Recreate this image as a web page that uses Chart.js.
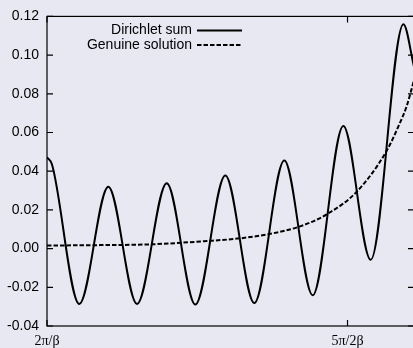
<!DOCTYPE html>
<html>
<head>
<meta charset="utf-8">
<script src="https://cdn.jsdelivr.net/npm/chart.js@4.4.0/dist/chart.umd.min.js"></script>
<style>
  html, body { margin: 0; padding: 0; overflow: hidden; background: #e8e8f2; }
  #wrap { position: relative; width: 416px; height: 348px; }
</style>
</head>
<body>
<div id="wrap"><canvas id="c"></canvas></div>
<script>
// Abscissa is measured in units of pi/beta.
const seriesNames = ['Dirichlet sum', 'Genuine solution'];

// Dirichlet partial sum: extrema of the oscillation plus the two ends
const sumX = [2.0000, 2.0083, 2.0537, 2.1020, 2.1498, 2.1992, 2.2468, 2.2967,
              2.3449, 2.3948, 2.4421, 2.4930, 2.5386, 2.5930, 2.6106];
const sumY = [0.0472, 0.0435, -0.0286, 0.0320, -0.0286, 0.0338, -0.0289, 0.0378,
              -0.0281, 0.0455, -0.0241, 0.0634, -0.0058, 0.1160, 0.0940];

// Genuine solution
const solX = [2.0000, 2.0882, 2.1714, 2.2657, 2.3211, 2.3760, 2.4210,
              2.4654, 2.5153, 2.5641, 2.5874, 2.5985, 2.6106];
const solY = [0.0016, 0.0018, 0.0022, 0.0039, 0.0053, 0.0079, 0.0115,
              0.0177, 0.0294, 0.0500, 0.0651, 0.0737, 0.0870];

const yTicks = [-0.04, -0.02, 0.00, 0.02, 0.04, 0.06, 0.08, 0.10, 0.12];
const xTickValues = [2, 2.5];
const xTickLabels = ['2\u03C0/\u03B2', '5\u03C0/2\u03B2'];

const BG = '#e8e8f2';
const INK = '#000000';
const SANS = '"Liberation Sans", Arial, sans-serif';
const SERIF = '"Liberation Serif", "Times New Roman", serif';

const toPoints = (xs, ys) => xs.map((x, i) => ({ x: x, y: ys[i] }));

// Page background behind everything
const backgroundPlugin = {
  id: 'bg',
  beforeDraw(chart) {
    const ctx = chart.ctx;
    ctx.save();
    ctx.fillStyle = BG;
    ctx.fillRect(0, 0, chart.width, chart.height);
    ctx.restore();
  }
};

// Box frame with inward tick marks on all four sides
const framePlugin = {
  id: 'frame',
  afterDatasetsDraw(chart) {
    const { ctx, chartArea: a, scales } = chart;
    const tl = 6;
    ctx.save();
    ctx.strokeStyle = INK;
    ctx.lineWidth = 1.2;
    ctx.setLineDash([]);
    ctx.strokeRect(a.left, a.top, a.right - a.left, a.bottom - a.top);
    ctx.beginPath();
    yTicks.forEach(v => {
      const y = scales.y.getPixelForValue(v);
      ctx.moveTo(a.left, y); ctx.lineTo(a.left + tl, y);
      ctx.moveTo(a.right, y); ctx.lineTo(a.right - tl, y);
    });
    xTickValues.forEach(v => {
      const x = scales.x.getPixelForValue(v);
      ctx.moveTo(x, a.bottom); ctx.lineTo(x, a.bottom - tl);
      ctx.moveTo(x, a.top); ctx.lineTo(x, a.top + tl);
    });
    ctx.stroke();
    ctx.restore();
  }
};

// Key in the upper left: right-aligned titles followed by line samples
const keyPlugin = {
  id: 'key',
  afterDraw(chart) {
    const { ctx, chartArea: a } = chart;
    const textRight = a.left + 145;
    const sampleL = a.left + 150;
    const sampleR = a.left + 195;
    ctx.save();
    ctx.font = '14px ' + SANS;
    ctx.textAlign = 'right';
    ctx.textBaseline = 'middle';
    chart.data.datasets.forEach((ds, i) => {
      const y = a.top + 14 + i * 14.5;
      ctx.fillStyle = INK;
      ctx.fillText(ds.label, textRight, y);
      ctx.strokeStyle = ds.borderColor;
      ctx.lineWidth = ds.borderWidth;
      ctx.setLineDash(ds.borderDash || []);
      ctx.beginPath();
      ctx.moveTo(sampleL, y);
      ctx.lineTo(sampleR, y);
      ctx.stroke();
    });
    ctx.restore();
  }
};

new Chart(document.getElementById('c'), {
  type: 'line',
  data: {
    datasets: [
      {
        label: seriesNames[0],
        data: toPoints(sumX, sumY),
        borderColor: INK,
        borderWidth: 2,
        pointRadius: 0,
        cubicInterpolationMode: 'monotone',
        fill: false
      },
      {
        label: seriesNames[1],
        data: toPoints(solX, solY),
        borderColor: INK,
        borderWidth: 2,
        borderDash: [4.5, 2],
        pointRadius: 0,
        cubicInterpolationMode: 'monotone',
        fill: false
      }
    ]
  },
  options: {
    responsive: true,
    maintainAspectRatio: false,
    animation: false,
    events: [],
    layout: { padding: { top: 13, right: 2, left: 0, bottom: 0 } },
    plugins: { legend: { display: false }, tooltip: { enabled: false } },
    scales: {
      x: {
        type: 'linear',
        min: 2,
        max: 2.6106,
        grid: { display: false, drawTicks: false },
        border: { display: false },
        afterBuildTicks: s => { s.ticks = xTickValues.map(v => ({ value: v })); },
        afterFit: s => { s.height = 22; },
        ticks: {
          autoSkip: false,
          maxRotation: 0,
          padding: 7,
          color: INK,
          font: { family: SERIF, size: 14 },
          callback: v => xTickLabels[xTickValues.indexOf(v)]
        }
      },
      y: {
        min: -0.04,
        max: 0.12,
        grid: { display: false, drawTicks: false },
        border: { display: false },
        afterBuildTicks: s => { s.ticks = yTicks.map(v => ({ value: v })); },
        afterFit: s => { s.width = 47; },
        ticks: {
          padding: 8,
          color: INK,
          font: { family: SANS, size: 14 },
          callback: v => v.toFixed(2)
        }
      }
    }
  },
  plugins: [backgroundPlugin, framePlugin, keyPlugin]
});
</script>
</body>
</html>
